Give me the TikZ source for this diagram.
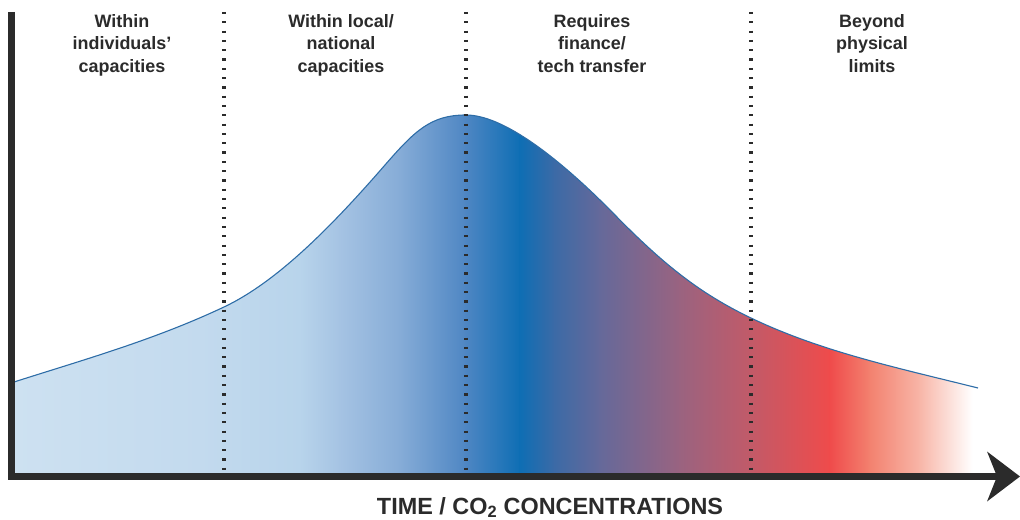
\documentclass[tikz,border=0pt]{standalone}
\usepackage{fontspec}
\setmainfont{Liberation Sans}
\usetikzlibrary{arrows.meta}

\definecolor{axisgray}{HTML}{2B2B2B}
\definecolor{curveblue}{HTML}{2E6DA7}
% colour bands under the curve, left to right
\definecolor{sh1}{HTML}{CDE1F1}
\definecolor{sh2}{HTML}{C3DAEE}
\definecolor{sh3}{HTML}{B8D4EB}
\definecolor{sh4}{HTML}{A5C3E3}
\definecolor{sh5}{HTML}{86ACD7}
\definecolor{sh6}{HTML}{4E86C3}
\definecolor{sh7}{HTML}{0E6EB4}
\definecolor{sh8}{HTML}{3C6AA6}
\definecolor{sh9}{HTML}{65699A}
\definecolor{sh10}{HTML}{9A6380}
\definecolor{sh11}{HTML}{C25A68}
\definecolor{sh12}{HTML}{EF4B4B}
\definecolor{sh13}{HTML}{F3816F}
\definecolor{sh14}{HTML}{F8B6A8}
\definecolor{sh15}{HTML}{FFFFFF}

% the capacity curve, start to end
\newcommand{\capacitycurve}{(14,382)
    .. controls (84,359.6) and (154,340) .. (224,307)
    .. controls (279,281) and (335,222.5) .. (385,165)
    .. controls (415,130.5) and (431,115) .. (466,115)
    .. controls (508,115) and (570,169) .. (615,215)
    .. controls (665,266) and (701,294) .. (751,318)
    .. controls (821,351.6) and (898,368) .. (978,388)}

\begin{document}
\begin{tikzpicture}[
    x=1bp, y=-1bp,
    axisline/.style={draw=axisgray, line width=6.5bp, line join=miter},
    divider/.style={draw=axisgray, line width=4.5bp, dash pattern=on 2.2bp off 7.1bp},
    zonelabel/.style={font=\fontsize{18}{22.5}\selectfont\bfseries, text=axisgray, align=center, anchor=north, inner sep=0pt},
    curveline/.style={draw=curveblue, line width=1.1bp}
]
    \useasboundingbox (0,0) rectangle (1020,520);

    % area under the curve, shaded band by band
    \begin{scope}
        \clip \capacitycurve -- (978,474) -- (14,474) -- cycle;
        \foreach \xa/\ca/\xb/\cb in {14/sh1/200/sh2, 200/sh2/300/sh3, 300/sh3/340/sh4,
                340/sh4/400/sh5, 400/sh5/466/sh6, 466/sh6/520/sh7, 520/sh7/555/sh8,
                555/sh8/600/sh9, 600/sh9/680/sh10, 680/sh10/751/sh11, 751/sh11/830/sh12,
                830/sh12/870/sh13, 870/sh13/920/sh14, 920/sh14/972/sh15}
            \shade[left color=\ca, right color=\cb] (\xa-0.5,100) rectangle (\xb+0.5,480);
    \end{scope}
    \draw[curveline] \capacitycurve;

    % zone dividers
    \foreach \dx in {224,466,751}
        \draw[divider] (\dx,12) -- (\dx,470);

    % axes
    \coordinate (ytop) at (11.5,12);
    \coordinate (origin) at (11.5,476.5);
    \coordinate (xend) at (1020,476.5);
    \draw[axisline, -{Stealth[length=33bp, width=50bp, inset=10bp, line width=0pt]}] (ytop) -- (origin) -- (xend);

    \node[zonelabel] (indiv) at (122,14) {Within\\individuals'\\capacities};
    \node[zonelabel] (natl) at (341,14) {Within local/\\national\\capacities};
    \node[zonelabel] (finance) at (592,14) {Requires\\finance/\\tech transfer};
    \node[zonelabel] (physical) at (872,14) {Beyond\\physical\\limits};

    \node[font=\fontsize{23.5}{23.5}\selectfont\bfseries, text=axisgray, anchor=base, inner sep=0pt] (xlabel) at (550,514) {TIME / CO\textsubscript{2} CONCENTRATIONS};
\end{tikzpicture}
\end{document}
